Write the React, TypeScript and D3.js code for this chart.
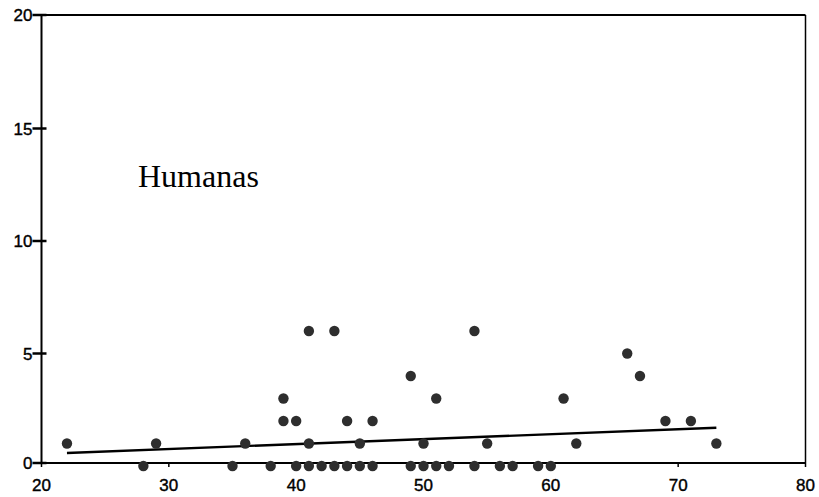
import React from "react";
import * as d3 from "d3";

const xTicks = [20, 30, 40, 50, 60, 70, 80];
const yTicks = [0, 5, 10, 15, 20];
const pointX = [22, 29, 36, 41, 45, 50, 55, 62, 73, 39, 40, 44, 46, 69, 71, 39, 51, 61, 49, 67, 66, 41, 43, 54,
  28, 35, 38, 40, 41, 42, 43, 44, 45, 46, 49, 50, 51, 52, 54, 56, 57, 59, 60];
const pointY = [1, 1, 1, 1, 1, 1, 1, 1, 1, 2, 2, 2, 2, 2, 2, 3, 3, 3, 4, 4, 5, 6, 6, 6,
  0, 0, 0, 0, 0, 0, 0, 0, 0, 0, 0, 0, 0, 0, 0, 0, 0, 0, 0];
const fitX = [22, 73];
const fitY = [0.58, 1.7];
const label = "Humanas";

export default function App() {
  const W = 819, H = 497;
  const x = d3.scaleLinear().domain([20, 80]).range([41.5, 805.5]);
  const y = d3.scaleLinear().domain([0, 20]).range([466, 16]);
  const frameTop = 15, frameBottom = 463;
  const line = d3.line<number>().x((d) => x(fitX[d])).y((d) => y(fitY[d]));
  const font = "'Liberation Sans', Arial, sans-serif";
  return (
    <svg width={W} height={H} style={{ position: "absolute", left: 0, top: 0, background: "#fff" }}>
      <rect x={0} y={0} width={W} height={H} fill="#fff" />
      {/* frame */}
      <line x1={x(20)} x2={x(80)} y1={frameTop} y2={frameTop} stroke="#000" strokeWidth={2} />
      <line x1={x(80)} x2={x(80)} y1={frameTop} y2={frameBottom} stroke="#000" strokeWidth={1.5} />
      <line x1={x(20)} x2={x(20)} y1={frameTop} y2={frameBottom + 1} stroke="#000" strokeWidth={2} />
      <line x1={x(20)} x2={x(80)} y1={frameBottom} y2={frameBottom} stroke="#000" strokeWidth={2.2} />
      {/* y ticks */}
      {yTicks.map((t) => {
        const yy = t === 0 ? frameBottom : t === 20 ? frameTop : y(t);
        return (
          <g key={"y" + t}>
            <line x1={x(20) - 9} x2={x(20) + 5} y1={yy} y2={yy} stroke="#000" strokeWidth={2.5} />
            <text x={x(20) - 9} y={yy} dy="0.36em" textAnchor="end" fontFamily={font} fontSize={17} fill="#000" stroke="#000" strokeWidth={0.4}>{t}</text>
          </g>
        );
      })}
      {/* x ticks */}
      {xTicks.map((t) => (
        <g key={"x" + t}>
          <line x1={x(t)} x2={x(t)} y1={frameBottom} y2={frameBottom + 4} stroke="#000" strokeWidth={1.5} />
          <text x={x(t)} y={485} dy="0.36em" textAnchor="middle" fontFamily={font} fontSize={17} fill="#000" stroke="#000" strokeWidth={0.4}>{t}</text>
        </g>
      ))}
      {/* fit line */}
      <path d={line([0, 1]) || ""} stroke="#000" strokeWidth={2.4} fill="none" />
      {/* points */}
      {pointX.map((px, i) => (
        <circle key={i} cx={x(px)} cy={y(pointY[i])} r={5.2} fill="#2e2e2e" />
      ))}
      <text x={138} y={187} fontFamily="'Liberation Serif', 'Times New Roman', serif" fontSize={32} fill="#000">{label}</text>
    </svg>
  );
}
